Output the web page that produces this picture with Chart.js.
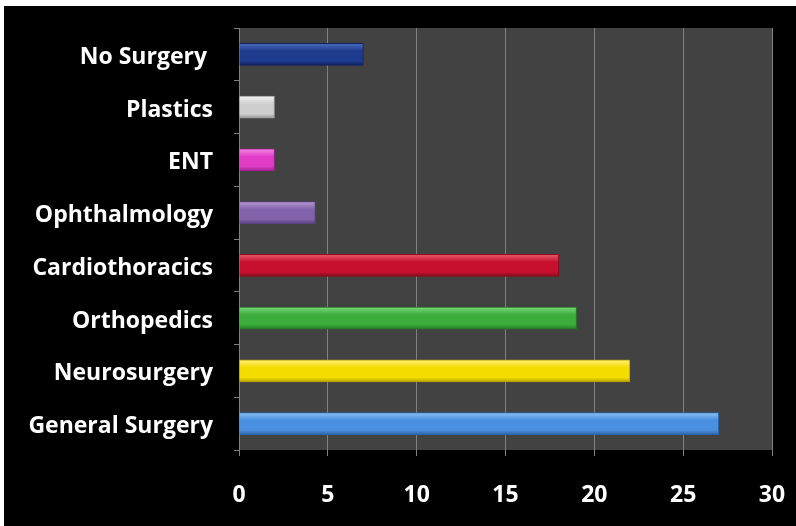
<!DOCTYPE html>
<html>
<head>
<meta charset="utf-8">
<script src="https://cdn.jsdelivr.net/npm/chart.js@4/dist/chart.umd.min.js"></script>
<style>
  html, body { margin: 0; padding: 0; background: #ffffff; }
  #wrap { position: absolute; left: 4px; top: 6px; width: 792px; height: 520px; background: #000000; }
</style>
</head>
<body>
<div id="wrap"><canvas id="chart"></canvas></div>
<script>
const categories = ['No Surgery ', 'Plastics', 'ENT', 'Ophthalmology', 'Cardiothoracics', 'Orthopedics', 'Neurosurgery', 'General Surgery'];
const counts = [7, 2, 2, 4.3, 18, 19, 22, 27];
const xTicks = [0, 5, 10, 15, 20, 25, 30];

// light, base, dark per bar
const barColors = [
  ['#4b6cc0', '#1d3a8c', '#0f2260'],
  ['#f4f4f4', '#cfcfcf', '#9a9a9a'],
  ['#f58ae6', '#e03cc6', '#a02090'],
  ['#b49ad2', '#8262aa', '#5a4080'],
  ['#e85a6c', '#c8102e', '#8a0a1e'],
  ['#7ad87a', '#3cac3c', '#257a25'],
  ['#fff27a', '#f5dc00', '#b8a200'],
  ['#8cc0f4', '#4a90e0', '#2c64a8']
];

const BAR_H = 22;

function barFill(ctx) {
  const chart = ctx.chart;
  const c = barColors[ctx.dataIndex];
  const y = chart.scales.y;
  if (!y || !isFinite(y.getPixelForValue(ctx.dataIndex))) return c[1];
  const mid = y.getPixelForValue(ctx.dataIndex);
  const g = chart.ctx.createLinearGradient(0, mid - BAR_H / 2, 0, mid + BAR_H / 2);
  g.addColorStop(0, c[0]);
  g.addColorStop(0.35, c[1]);
  g.addColorStop(0.8, c[1]);
  g.addColorStop(1, c[2]);
  return g;
}

const plotBg = {
  id: 'plotBg',
  beforeDraw(chart) {
    const a = chart.chartArea;
    const ctx = chart.ctx;
    ctx.save();
    ctx.fillStyle = '#424242';
    ctx.fillRect(a.left, a.top, a.right - a.left, a.bottom - a.top);
    ctx.restore();
  }
};

new Chart(document.getElementById('chart'), {
  type: 'bar',
  data: {
    labels: categories,
    datasets: [{
      data: counts,
      backgroundColor: barFill,
      borderColor: barColors.map(c => c[2]),
      borderWidth: 1,
      barThickness: BAR_H
    }]
  },
  options: {
    indexAxis: 'y',
    responsive: true,
    maintainAspectRatio: false,
    animation: false,
    events: [],
    layout: { padding: { top: 22, right: 24, left: 0, bottom: 0 } },
    plugins: {
      legend: { display: false },
      tooltip: { enabled: false }
    },
    scales: {
      x: {
        min: 0,
        max: 30,
        afterBuildTicks(scale) {
          scale.ticks = xTicks.map(v => ({ value: v }));
        },
        afterFit(scale) {
          scale.height = 76;
          scale.paddingLeft = 0;
          scale.paddingRight = 0;
        },
        border: { display: false },
        grid: {
          color: '#808080',
          lineWidth: 1,
          tickLength: 6,
          tickColor: '#808080'
        },
        ticks: {
          color: '#ffffff',
          padding: 26,
          font: { family: 'Open Sans', weight: 'bold', size: 23 }
        }
      },
      y: {
        afterFit(scale) {
          scale.width = 235;
          scale.paddingTop = 0;
          scale.paddingBottom = 0;
        },
        border: { display: true, color: '#808080', width: 1 },
        grid: {
          offset: true,
          drawOnChartArea: false,
          tickLength: 5,
          tickColor: '#808080'
        },
        ticks: {
          color: '#ffffff',
          padding: 21,
          labelOffset: 3,
          font: { family: 'Open Sans', weight: 'bold', size: 23 }
        }
      }
    }
  },
  plugins: [plotBg]
});
</script>
</body>
</html>
